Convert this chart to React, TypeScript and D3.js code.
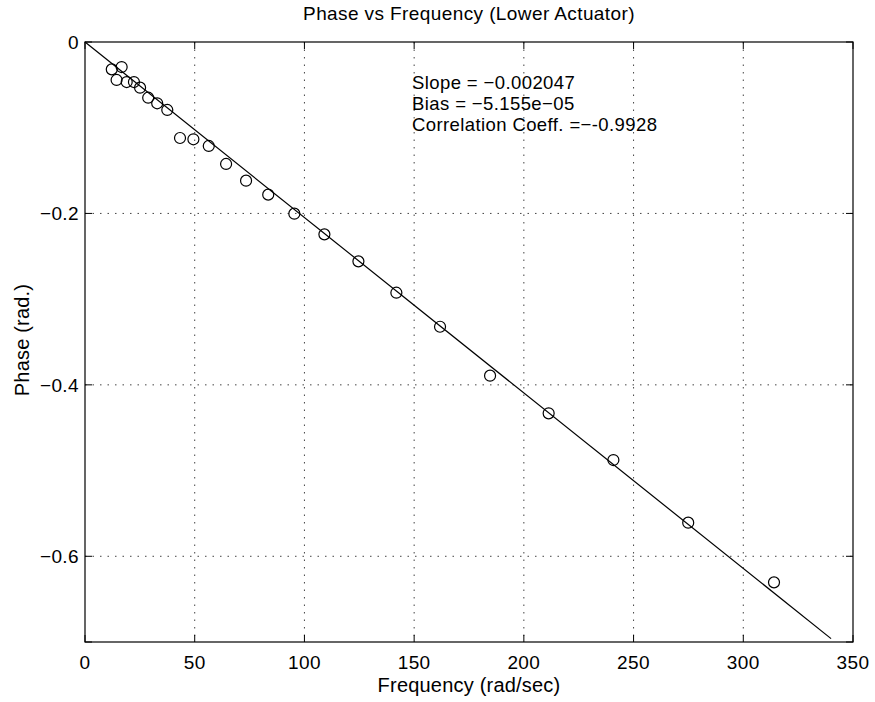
import * as d3 from "d3";

// ── Data ──────────────────────────────────────────────────
const freq = [
  12.2, 16.7, 14.4, 19.0, 22.3, 25.1, 28.8, 32.9, 37.5, 43.3, 49.4, 56.4, 64.3,
  73.4, 83.5, 95.4, 109.1, 124.6, 141.9, 161.8, 184.6, 211.3, 240.8, 274.9, 314.0,
];
const phase = [
  -0.0319, -0.0292, -0.0443, -0.0467, -0.0467, -0.0533, -0.065, -0.0715, -0.0793,
  -0.112, -0.1135, -0.1213, -0.1423, -0.1618, -0.1781, -0.2003, -0.2244, -0.2559,
  -0.2925, -0.3322, -0.3893, -0.4332, -0.4877, -0.5608, -0.6304,
];
const slope = -0.002047;
const bias = -5.155e-5;
const fitRange = [0, 340];
const xTicks = [0, 50, 100, 150, 200, 250, 300, 350];
const yTicks = [0, -0.2, -0.4, -0.6];
const notes = [
  "Slope = \u22120.002047",
  "Bias = \u22125.155e\u221205",
  "Correlation Coeff. =\u2212-0.9928",
];

// ── Layout ────────────────────────────────────────────────
const W = 875;
const H = 702;
const left = 85, right = 853, top = 42, bottom = 642;
const FONT = "'Liberation Sans', Arial, Helvetica, sans-serif";

const x = d3.scaleLinear().domain([0, 350]).range([left, right]);
const y = d3.scaleLinear().domain([-0.7, 0]).range([bottom, top]);

const fitLine = d3.line<number>()
  .x(d => x(d))
  .y(d => y(slope * d + bias));

const fmtY = (v: number) => (v === 0 ? "0" : d3.format(".1f")(v).replace("-", "\u2212"));

export default function App() {
  const tick = 7;
  return (
    <svg width={W} height={H}
      style={{ position: "absolute", left: 0, top: 0, background: "#fff" }}
      fontFamily={FONT}>
      <rect x={0} y={0} width={W} height={H} fill="#fff" />

      {/* grid */}
      {xTicks.slice(1, -1).map(t => (
        <line key={"gx" + t} x1={x(t)} x2={x(t)} y1={top} y2={bottom}
          stroke="#444" strokeWidth={1} strokeDasharray="1.5,6" />
      ))}
      {yTicks.slice(1).map(t => (
        <line key={"gy" + t} x1={left} x2={right} y1={y(t)} y2={y(t)}
          stroke="#444" strokeWidth={1} strokeDasharray="1.5,6" />
      ))}

      {/* ticks on all four sides */}
      {xTicks.map(t => (
        <g key={"tx" + t}>
          <line x1={x(t)} x2={x(t)} y1={bottom} y2={bottom - tick} stroke="#000" />
          <line x1={x(t)} x2={x(t)} y1={top} y2={top + tick} stroke="#000" />
          <text x={x(t)} y={669} textAnchor="middle" fontSize={19} letterSpacing={0.4}>{t}</text>
        </g>
      ))}
      {[...yTicks, -0.7].map(t => (
        <g key={"ty" + t}>
          <line x1={left} x2={left + tick} y1={y(t)} y2={y(t)} stroke="#000" />
          <line x1={right} x2={right - tick} y1={y(t)} y2={y(t)} stroke="#000" />
        </g>
      ))}
      {yTicks.map(t => (
        <text key={"ly" + t} x={left - 6} y={y(t) + 7} textAnchor="end" fontSize={19}
          letterSpacing={0.4}>
          {fmtY(t)}
        </text>
      ))}

      {/* box */}
      <rect x={left} y={top} width={right - left} height={bottom - top}
        fill="none" stroke="#000" strokeWidth={1.2} />

      {/* fit line */}
      <path d={fitLine(fitRange) ?? ""} fill="none" stroke="#000" strokeWidth={1.2} />

      {/* data */}
      {freq.map((f, i) => (
        <circle key={i} cx={x(f)} cy={y(phase[i])} r={5.5}
          fill="none" stroke="#000" strokeWidth={1.2} />
      ))}

      {/* notes */}
      {notes.map((n, i) => (
        <text key={n} x={412} y={89 + i * 21} fontSize={18.5} letterSpacing={0.4}>{n}</text>
      ))}

      {/* titles */}
      <text x={469} y={20} textAnchor="middle" fontSize={19} letterSpacing={0.4}>
        Phase vs Frequency (Lower Actuator)
      </text>
      <text x={469} y={692} textAnchor="middle" fontSize={20} letterSpacing={0.2}>
        Frequency (rad/sec)
      </text>
      <text transform={`translate(29,340) rotate(-90)`}
        textAnchor="middle" fontSize={20} letterSpacing={0.2}>
        Phase (rad.)
      </text>
    </svg>
  );
}
